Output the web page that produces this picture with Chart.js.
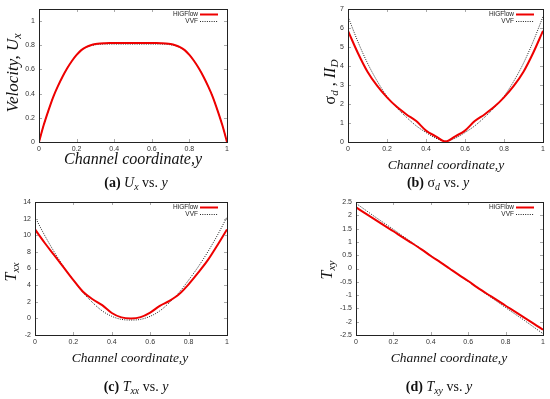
<!DOCTYPE html>
<html>
<head>
<meta charset="utf-8">
<script src="https://cdn.jsdelivr.net/npm/chart.js@4.4.1/dist/chart.umd.min.js"></script>
<style>
  body { margin: 0; background: #fff; }
  #wrap { position: relative; width: 550px; height: 399px; overflow: hidden; background: #fff; }
  #wrap canvas { position: absolute; left: 0; top: 0; }
  .lbl { position: absolute; transform: translate(-50%, -50%); white-space: nowrap;
         font-family: "Liberation Serif", "DejaVu Serif", serif; color: #111; line-height: 1; }
  .rot { transform: translate(-50%, -50%) rotate(-90deg); }
  .it { font-style: italic; }
  sub { font-size: 70%; vertical-align: -0.25em; }
  .cap { font-size: 14px; }
</style>
</head>
<body>
<div id="wrap">
  <canvas id="chartA" width="550" height="399"></canvas>
  <canvas id="chartB" width="550" height="399"></canvas>
  <canvas id="chartC" width="550" height="399"></canvas>
  <canvas id="chartD" width="550" height="399"></canvas>

  <div class="lbl rot it" style="left:14px;top:73px;font-size:17px;">Velocity, U<sub>x</sub></div>
  <div class="lbl it" style="left:133px;top:159px;font-size:16px;">Channel coordinate,y</div>
  <div class="lbl cap" style="left:136px;top:184px;"><b>(a)</b> <i>U<sub>x</sub></i> vs. <i>y</i></div>

  <div class="lbl rot" style="left:331px;top:82px;font-size:16px;">σ<sub><i>d</i></sub> , <i>II<sub>D</sub></i></div>
  <div class="lbl it" style="left:446px;top:165px;font-size:13.5px;">Channel coordinate,y</div>
  <div class="lbl cap" style="left:438px;top:184px;"><b>(b)</b> σ<sub><i>d</i></sub> vs. <i>y</i></div>

  <div class="lbl rot it" style="left:12px;top:272px;font-size:16px;">T<sub>xx</sub></div>
  <div class="lbl it" style="left:130px;top:358px;font-size:13.5px;">Channel coordinate,y</div>
  <div class="lbl cap" style="left:136px;top:388px;"><b>(c)</b> <i>T<sub>xx</sub></i> vs. <i>y</i></div>

  <div class="lbl rot it" style="left:328px;top:270px;font-size:16px;">T<sub>xy</sub></div>
  <div class="lbl it" style="left:449px;top:358px;font-size:13.5px;">Channel coordinate,y</div>
  <div class="lbl cap" style="left:439px;top:388px;"><b>(d)</b> <i>T<sub>xy</sub></i> vs. <i>y</i></div>
</div>

<script>
// Data
const seriesNames = ['HiGFlow', 'VVF'];

// (a) velocity profile, y step 0.025
const yFine = [0, 0.025, 0.05, 0.075, 0.1, 0.125, 0.15, 0.175, 0.2, 0.225, 0.25, 0.275, 0.3, 0.325, 0.35, 0.375, 0.4, 0.425, 0.45, 0.475, 0.5,
               0.525, 0.55, 0.575, 0.6, 0.625, 0.65, 0.675, 0.7, 0.725, 0.75, 0.775, 0.8, 0.825, 0.85, 0.875, 0.9, 0.925, 0.95, 0.975, 1];
const higVelocity = [0, 0.14, 0.26, 0.37, 0.46, 0.54, 0.61, 0.67, 0.72, 0.76, 0.785, 0.80, 0.81, 0.815, 0.817, 0.818, 0.818, 0.818, 0.818, 0.818, 0.818,
                     0.818, 0.818, 0.818, 0.818, 0.818, 0.817, 0.815, 0.81, 0.80, 0.785, 0.76, 0.72, 0.67, 0.61, 0.54, 0.46, 0.37, 0.26, 0.14, 0];
const vvfVelocity = [0, 0.14, 0.26, 0.37, 0.46, 0.54, 0.61, 0.67, 0.72, 0.758, 0.782, 0.796, 0.804, 0.808, 0.81, 0.81, 0.81, 0.81, 0.81, 0.81, 0.81,
                     0.81, 0.81, 0.81, 0.81, 0.81, 0.81, 0.808, 0.804, 0.796, 0.782, 0.758, 0.72, 0.67, 0.61, 0.54, 0.46, 0.37, 0.26, 0.14, 0];

// (b), (c), (d), y step 0.05
const yCoarse = [0, 0.05, 0.1, 0.15, 0.2, 0.25, 0.3, 0.35, 0.4, 0.45, 0.5, 0.55, 0.6, 0.65, 0.7, 0.75, 0.8, 0.85, 0.9, 0.95, 1];
const higSigma = [5.85, 4.7, 3.7, 2.95, 2.35, 1.85, 1.45, 1.1, 0.6, 0.3, 0.02, 0.3, 0.6, 1.1, 1.45, 1.85, 2.35, 2.95, 3.7, 4.7, 5.85];
const vvfSigma = [6.6, 5.3, 4.15, 3.2, 2.4, 1.8, 1.3, 0.85, 0.5, 0.2, 0.05, 0.2, 0.5, 0.85, 1.3, 1.8, 2.4, 3.2, 4.15, 5.3, 6.6];
const higTxx = [10.7, 9.1, 7.6, 6.1, 4.6, 3.2, 2.3, 1.6, 0.65, 0.12, 0.0, 0.15, 0.7, 1.5, 2.1, 2.9, 4.1, 5.5, 7.0, 8.8, 10.7];
const vvfTxx = [12.2, 10.0, 8.0, 6.2, 4.6, 3.1, 1.9, 0.9, 0.25, -0.12, -0.2, -0.12, 0.25, 0.9, 1.9, 3.1, 4.6, 6.2, 8.0, 10.0, 12.2];
const higTxy = [2.3, 2.07, 1.85, 1.62, 1.4, 1.17, 0.95, 0.72, 0.47, 0.24, 0, -0.24, -0.47, -0.72, -0.95, -1.17, -1.4, -1.62, -1.85, -2.07, -2.3];
const vvfTxy = [2.45, 2.2, 1.95, 1.71, 1.47, 1.22, 0.98, 0.73, 0.49, 0.25, 0, -0.25, -0.49, -0.73, -0.98, -1.22, -1.47, -1.71, -1.95, -2.2, -2.45];

const xTicks = [0, 0.2, 0.4, 0.6, 0.8, 1];

const Y_AXIS_W = 30;
const X_AXIS_H = 30;

// gnuplot prints 1 not 1.0, 2 not 2.0
const tickText = v => String(+Number(v).toFixed(2));

// Box frame, inward tick marks and gnuplot-style key
const framePlugin = {
    id: 'frame',
    afterDraw(chart) {
        const { ctx, chartArea: a, scales } = chart;
        ctx.save();
        ctx.strokeStyle = '#aaa';
        ctx.lineWidth = 1;
        scales.x.ticks.forEach(t => {
            const px = Math.round(scales.x.getPixelForValue(t.value)) + 0.5;
            ctx.beginPath();
            ctx.moveTo(px, a.bottom); ctx.lineTo(px, a.bottom - 3);
            ctx.moveTo(px, a.top); ctx.lineTo(px, a.top + 3);
            ctx.stroke();
        });
        scales.y.ticks.forEach(t => {
            const py = Math.round(scales.y.getPixelForValue(t.value)) + 0.5;
            ctx.beginPath();
            ctx.moveTo(a.left, py); ctx.lineTo(a.left + 3, py);
            ctx.moveTo(a.right, py); ctx.lineTo(a.right - 3, py);
            ctx.stroke();
        });
        ctx.strokeStyle = '#222';
        ctx.strokeRect(Math.round(a.left) + 0.5, Math.round(a.top) + 0.5,
                       Math.round(a.right - a.left), Math.round(a.bottom - a.top));

        // key
        ctx.font = '6.5px "Liberation Sans", Arial, sans-serif';
        ctx.textAlign = 'right';
        ctx.textBaseline = 'middle';
        chart.data.datasets.forEach((ds, i) => {
            const y = a.top + 5.5 + i * 7;
            ctx.fillStyle = '#222';
            ctx.fillText(ds.label, a.right - 29, y);
            ctx.beginPath();
            ctx.strokeStyle = ds.borderColor;
            ctx.lineWidth = ds.borderWidth;
            ctx.setLineDash(ds.borderDash || []);
            ctx.moveTo(a.right - 27, y);
            ctx.lineTo(a.right - 9, y);
            ctx.stroke();
        });
        ctx.restore();
    }
};

function makePanel(id, box, xs, hig, vvf, yMin, yMax, yStep) {
    const toPoints = vals => vals.map((v, i) => ({ x: xs[i], y: v }));
    new Chart(document.getElementById(id), {
        type: 'line',
        data: {
            datasets: [{
                label: seriesNames[0],
                data: toPoints(hig),
                borderColor: '#ee0000',
                borderWidth: 2,
                pointRadius: 0,
                cubicInterpolationMode: 'monotone'
            }, {
                label: seriesNames[1],
                data: toPoints(vvf),
                borderColor: '#222',
                borderWidth: 1,
                borderDash: [1, 1.3],
                pointRadius: 0,
                cubicInterpolationMode: 'monotone'
            }]
        },
        options: {
            responsive: false,
            animation: false,
            devicePixelRatio: 1,
            layout: {
                padding: {
                    left: box.left - Y_AXIS_W,
                    right: 550 - box.right,
                    top: box.top,
                    bottom: 399 - box.bottom - X_AXIS_H
                }
            },
            plugins: { legend: { display: false }, tooltip: { enabled: false } },
            scales: {
                x: {
                    type: 'linear',
                    min: 0, max: 1,
                    afterBuildTicks: axis => { axis.ticks = xTicks.map(v => ({ value: v })); },
                    afterFit: axis => { axis.height = X_AXIS_H; },
                    grid: { display: false, drawTicks: false },
                    border: { display: false },
                    ticks: {
                        callback: tickText,
                        font: { family: '"Liberation Sans", Arial, sans-serif', size: 7 },
                        color: '#333', padding: 3, maxRotation: 0
                    }
                },
                y: {
                    min: yMin, max: yMax,
                    afterFit: axis => { axis.width = Y_AXIS_W; },
                    grid: { display: false, drawTicks: false },
                    border: { display: false },
                    ticks: {
                        stepSize: yStep,
                        includeBounds: false,
                        callback: tickText,
                        font: { family: '"Liberation Sans", Arial, sans-serif', size: 7 },
                        color: '#333', padding: 4
                    }
                }
            }
        },
        plugins: [framePlugin]
    });
}

document.addEventListener('DOMContentLoaded', () => {
    makePanel('chartA', { left: 39, right: 227, top: 9, bottom: 142 }, yFine, higVelocity, vvfVelocity, 0, 1.1, 0.2);
    makePanel('chartB', { left: 348, right: 543, top: 9, bottom: 142 }, yCoarse, higSigma, vvfSigma, 0, 7, 1);
    makePanel('chartC', { left: 35, right: 227, top: 202, bottom: 335 }, yCoarse, higTxx, vvfTxx, -2, 14, 2);
    makePanel('chartD', { left: 356, right: 543, top: 202, bottom: 335 }, yCoarse, higTxy, vvfTxy, -2.5, 2.5, 0.5);
});
</script>
</body>
</html>
